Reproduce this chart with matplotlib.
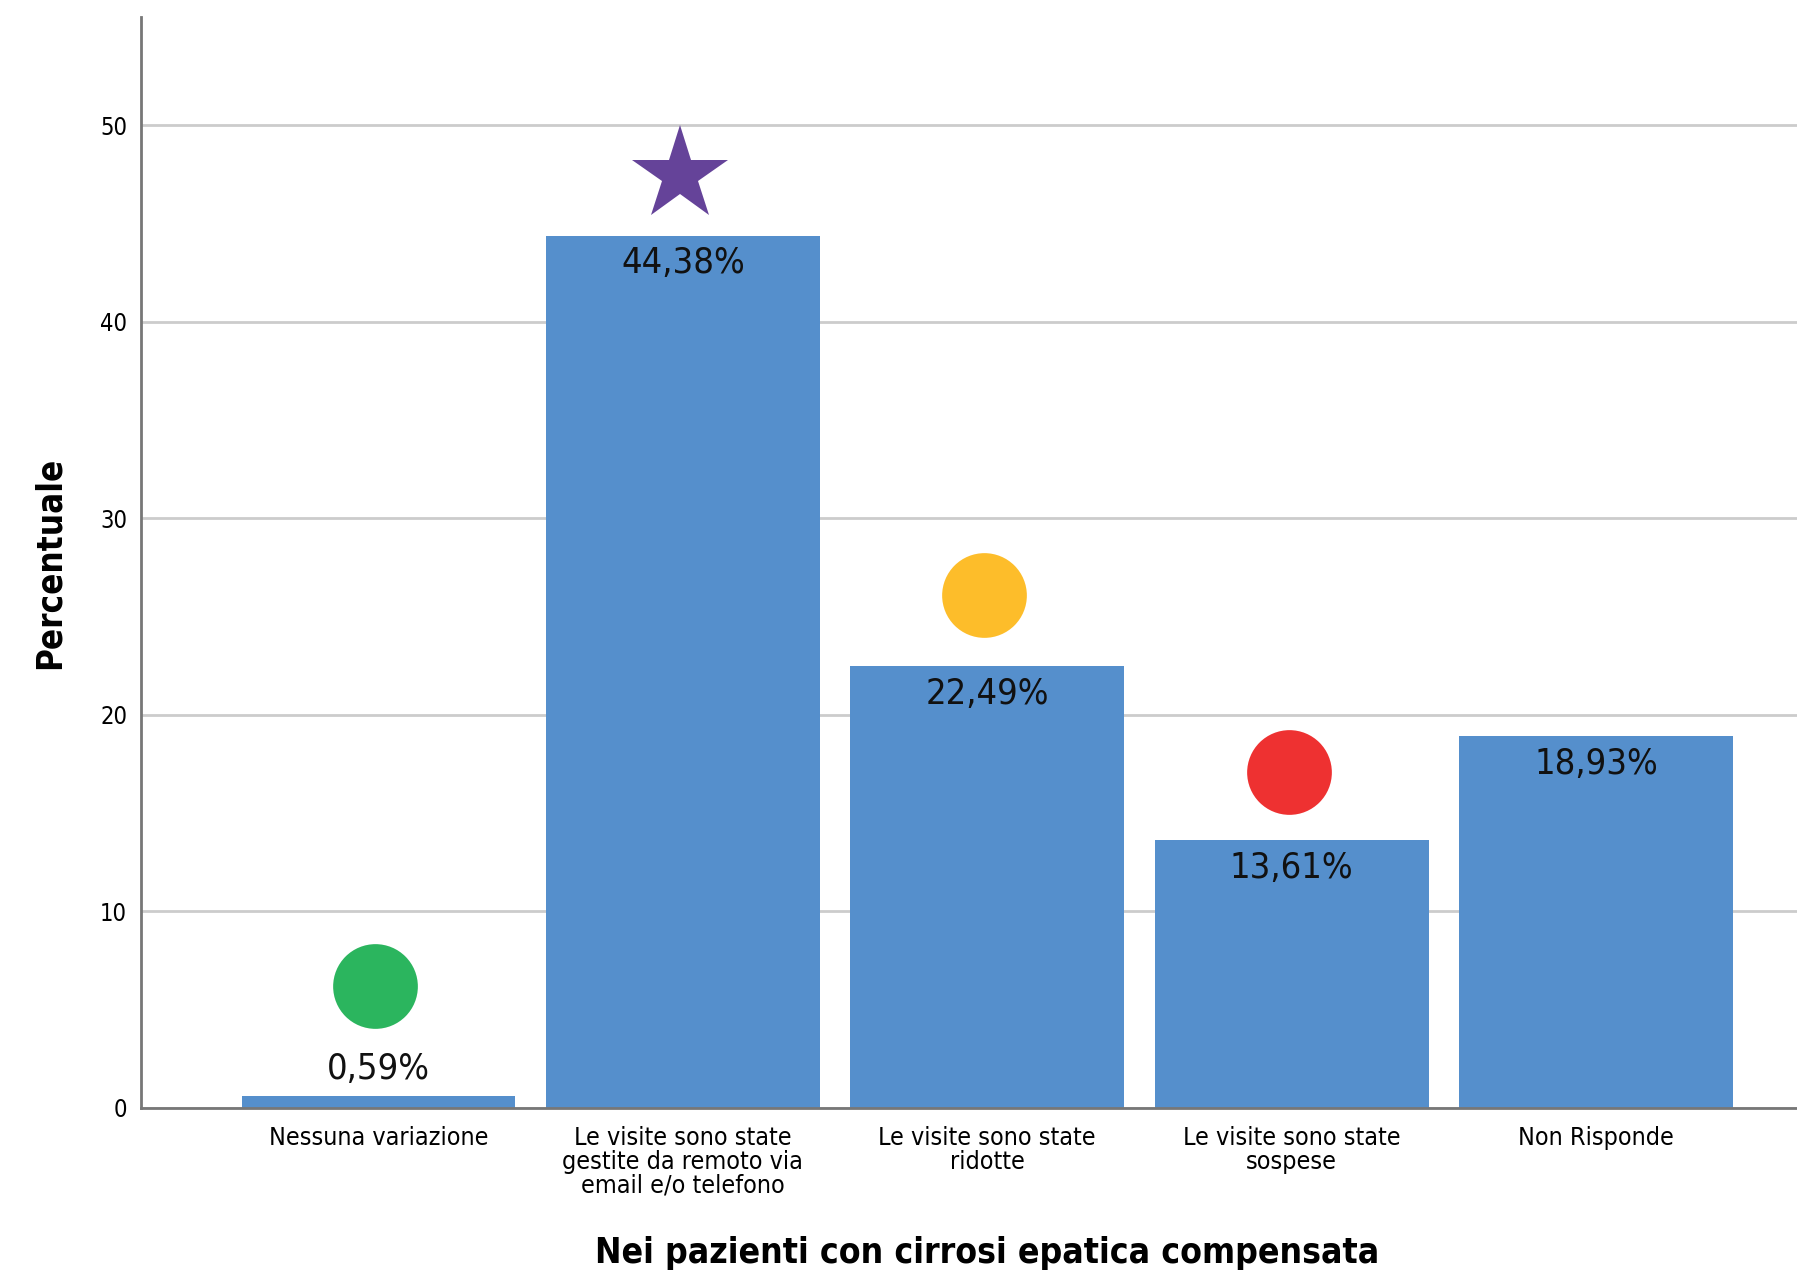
import matplotlib
matplotlib.use("Agg")
import matplotlib.pyplot as plt
import numpy as np

# dati
categorie = [
    "Nessuna variazione",
    "Le visite sono state\ngestite da remoto via\nemail e/o telefono",
    "Le visite sono state\nridotte",
    "Le visite sono state\nsospese",
    "Non Risponde",
]
percentuali = [0.59, 44.38, 22.49, 13.61, 18.93]
etichette = ["0,59%", "44,38%", "22,49%", "13,61%", "18,93%"]

# simboli sopra le barre: (indice barra, y, marker, colore)
simboli_idx = [0, 1, 2, 3]
simboli_y = [6.2, 47.45, 26.1, 17.1]
simboli_mk = ["o", "*", "o", "o"]
simboli_col = ["#2bb55e", "#654399", "#fdbd2a", "#ee3131"]
simboli_ms = [61, 72, 61, 61]

plt.rcParams["font.family"] = ["DejaVu Sans"]

fig = plt.figure(figsize=(17.97, 12.74), dpi=100)
ax = fig.add_axes([0.0785, 0.1303, 0.9215, 0.8564])

x = np.arange(len(categorie))
ax.bar(x, percentuali, width=0.9, color="#558fcc", zorder=2)

# etichette valori
for xi, v, lab in zip(x, percentuali, etichette):
    off = 20 if v < 3 else -20
    ax.annotate(lab, (xi, v), xytext=(0, off), textcoords="offset points",
                ha="center", va="center", fontsize=26, fontstretch="condensed",
                color="#111111", zorder=4)

for i, y, mk, c, ms in zip(simboli_idx, simboli_y, simboli_mk, simboli_col, simboli_ms):
    ax.plot(x[i] - 0.01, y, marker=mk, color=c, markersize=ms, markeredgewidth=0,
            linestyle="none", zorder=5)

ax.set_xlim(-0.78, 4.66)
ax.set_ylim(0, 55.5)
ax.set_yticks([0, 10, 20, 30, 40, 50])
ax.yaxis.grid(True, color="#cccccc", linewidth=2, zorder=0)
ax.set_axisbelow(True)

ax.set_xticks(x)
ax.set_xticklabels(categorie, fontsize=18, fontstretch="condensed", linespacing=0.98)
ax.tick_params(axis="x", length=0, pad=13)
ax.tick_params(axis="y", length=0, pad=10, labelsize=16)
for t in ax.get_yticklabels():
    t.set_fontstretch("condensed")
    t.set_fontsize(17)

for s in ["top", "right"]:
    ax.spines[s].set_visible(False)
ax.spines["left"].set_color("#777777")
ax.spines["left"].set_linewidth(2)
ax.spines["bottom"].set_color("#777777")
ax.spines["bottom"].set_linewidth(2)

ax.set_ylabel("Percentuale", fontsize=25, fontweight="bold", fontstretch="condensed",
              labelpad=24)
ax.set_xlabel("Nei pazienti con cirrosi epatica compensata", fontsize=25.5,
              fontweight="bold", fontstretch="condensed", va="center")
ax.xaxis.set_label_coords(0.511, -0.133)

fig.savefig("out.png", dpi=100)
